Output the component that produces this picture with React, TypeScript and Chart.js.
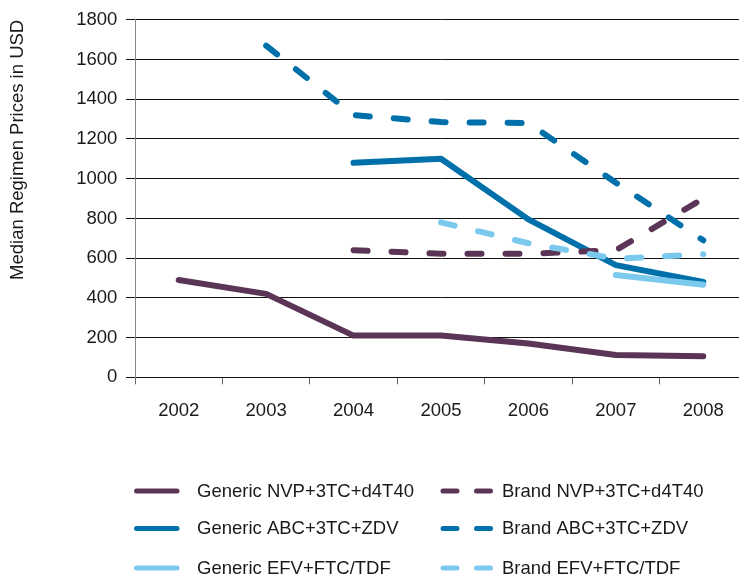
import React, { useEffect, useRef } from "react";
import { Chart, registerables } from "chart.js";

Chart.register(...registerables);

const years = ["2002", "2003", "2004", "2005", "2006", "2007", "2008"];
const genericNVP = [490, 420, 210, 210, 170, 112, 106];
const brandNVP = [null, null, 640, 622, 622, 640, 900];
const genericABC = [null, null, 1080, 1100, 795, 565, 480];
const brandABC = [null, 1670, 1320, 1285, 1280, 980, 690];
const genericEFV = [null, null, null, null, null, 515, 466];
const brandEFV = [null, null, null, 780, 675, 597, 620];

const seriesLabels = [
  "Generic NVP+3TC+d4T40",
  "Brand NVP+3TC+d4T40",
  "Generic ABC+3TC+ZDV",
  "Brand ABC+3TC+ZDV",
  "Generic EFV+FTC/TDF",
  "Brand EFV+FTC/TDF",
];

const yTicks = [0, 200, 400, 600, 800, 1000, 1200, 1400, 1600, 1800];
const yTitle = "Median Regimen Prices in USD";

const PURPLE = "#5b3556";
const BLUE = "#0070aa";
const LIGHT = "#7bcaee";
const FONT = "'Liberation Sans', Arial, Helvetica, sans-serif";
const DASH = [14, 24];

const legendPlugin = {
  id: "customLegend",
  afterDraw(chart: any) {
    const ctx = chart.ctx;
    const ds = chart.data.datasets;
    const rowsY = [491, 528.5, 568];
    const cols = [
      { x0: 136.5, x1: 177, text: 197 },
      { x0: 443, x1: 491, text: 502 },
    ];
    ctx.save();
    ds.forEach((d: any, i: number) => {
      const col = cols[i % 2];
      const y = rowsY[Math.floor(i / 2)];
      ctx.beginPath();
      ctx.lineWidth = 5;
      ctx.lineCap = "round";
      ctx.strokeStyle = d.borderColor;
      ctx.setLineDash(d.borderDash && d.borderDash.length ? [14, 19.5] : []);
      ctx.moveTo(col.x0, y);
      ctx.lineTo(col.x1, y);
      ctx.stroke();
      ctx.setLineDash([]);
      ctx.fillStyle = "#1a1a1a";
      ctx.font = `18.5px ${FONT}`;
      ctx.textAlign = "left";
      ctx.textBaseline = "middle";
      ctx.fillText(d.label, col.text, y + 0.5);
    });
    ctx.restore();
  },
};

export default function App() {
  const ref = useRef<HTMLCanvasElement>(null);

  useEffect(() => {
    if (!ref.current) return;
    const mk = (label: string, data: any[], color: string, dashed: boolean, order: number) => ({
      label,
      data,
      borderColor: color,
      backgroundColor: color,
      borderWidth: 6,
      borderDash: dashed ? DASH : [],
      borderCapStyle: "round",
      borderJoinStyle: "round",
      pointRadius: 0,
      pointHoverRadius: 0,
      tension: 0,
      fill: false,
      spanGaps: false,
      order,
    });
    const chart = new Chart(ref.current, {
      type: "line",
      data: {
        labels: years,
        datasets: [
          mk(seriesLabels[0], genericNVP, PURPLE, false, 1),
          mk(seriesLabels[1], brandNVP, PURPLE, true, 1),
          mk(seriesLabels[2], genericABC, BLUE, false, 1),
          mk(seriesLabels[3], brandABC, BLUE, true, 1),
          mk(seriesLabels[4], genericEFV, LIGHT, false, 0),
          mk(seriesLabels[5], brandEFV, LIGHT, true, 0),
        ] as any,
      },
      options: {
        responsive: false,
        animation: false,
        devicePixelRatio: 1,
        layout: { padding: { left: 0, right: 0, top: 17.3, bottom: 150.7 } },
        plugins: {
          legend: { display: false },
          tooltip: { enabled: false },
          title: { display: false },
        },
        scales: {
          x: {
            type: "category",
            offset: true,
            grid: {
              offset: true,
              drawOnChartArea: false,
              drawTicks: true,
              tickLength: 7,
              color: "#666",
              lineWidth: 1,
            },
            border: { display: true, color: "#111", width: 1 },
            ticks: {
              color: "#1a1a1a",
              font: { family: FONT, size: 18.5 },
              padding: 15.3,
              maxRotation: 0,
              autoSkip: false,
            },
            afterFit: (s: any) => {
              s.height = 50;
            },
          },
          y: {
            min: 0,
            max: 1800,
            afterBuildTicks: (s: any) => {
              s.ticks = yTicks.map((v) => ({ value: v }));
            },
            grid: {
              color: "#111",
              lineWidth: 1,
              drawTicks: true,
              tickLength: 9,
              tickColor: "#111",
            },
            border: { display: true, color: "#888", width: 1 },
            ticks: {
              color: "#1a1a1a",
              font: { family: FONT, size: 18.5 },
              padding: 8.7,
              callback: (v: any) => String(v),
            },
            title: {
              display: true,
              text: yTitle,
              align: "end",
              color: "#1a1a1a",
              font: { family: FONT, size: 18.5 },
              padding: { top: 7, bottom: 0 },
            },
            afterFit: (s: any) => {
              s.width = 135;
            },
          },
        },
      } as any,
      plugins: [legendPlugin],
    });
    return () => chart.destroy();
  }, []);

  return (
    <div
      style={{
        position: "absolute",
        left: 0,
        top: 0,
        width: 739,
        height: 578,
        overflow: "hidden",
        background: "#fff",
      }}
    >
      <canvas ref={ref} width={747} height={578} style={{ display: "block" }} />
    </div>
  );
}
